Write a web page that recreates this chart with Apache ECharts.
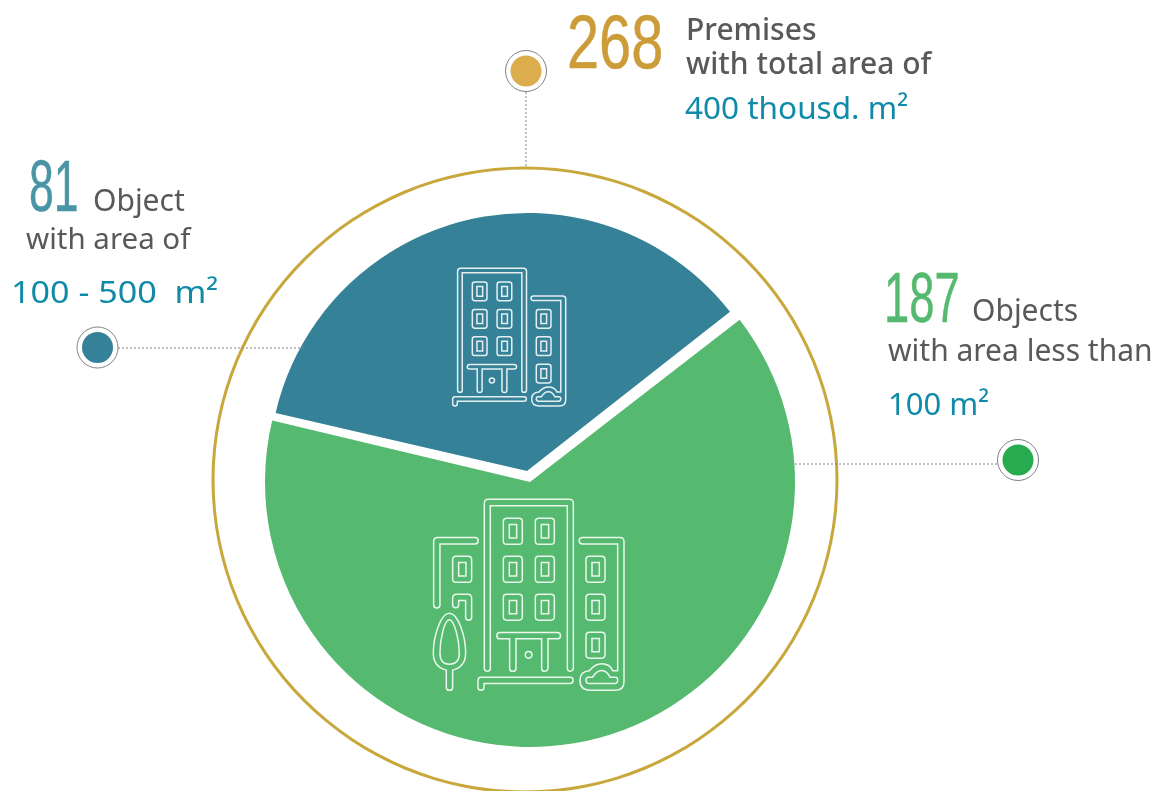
<!DOCTYPE html>
<html><head><meta charset="utf-8">
<style>html,body{margin:0;padding:0;background:#fff}#c{width:1155px;height:791px}</style>
<script src="https://cdn.jsdelivr.net/npm/echarts@6/dist/echarts.min.js"></script>
</head><body><div id="c"></div>
<script>
// Data
const categories = ['Object with area of 100 - 500 m²', 'Objects with area less than 100 m²'];
const objectCounts = [81, 187];
const totalPremises = 268;
const drawnSliceShares = [35.8, 64.2]; // share of the circle each slice occupies as drawn
const sliceStartAngle = 167;
const areaLabels = ['100 - 500  m²', '100 m²', '400 thousd. m²'];

const GREY = '#58595B', TEAL = '#0F8BA8';
const SANS = '"Noto Sans", sans-serif', NUM = '"Liberation Sans", sans-serif';

function win(x, y) {
  return `M${x+10} ${y}L${x+47} ${y}Q${x+57} ${y} ${x+57} ${y+10}L${x+57} ${y+68}Q${x+57} ${y+78} ${x+47} ${y+78}L${x+10} ${y+78}Q${x} ${y+78} ${x} ${y+68}L${x} ${y+10}Q${x} ${y} ${x+10} ${y}Z` +
         `M${x+18} ${y+19}L${x+40} ${y+19}L${x+40} ${y+59}L${x+18} ${y+59}Z`;
}
let iconCore = 'M193 535L193 40Q193 28 205 28L448 28Q460 28 460 40L460 535A9 9 0 0 1 442 535L442 47L211 47L211 535A9 9 0 0 1 193 535Z';
[85,199,313].forEach(y => { iconCore += win(250,y) + win(346,y); });
[199,313,427].forEach(y => { iconCore += win(498,y); });
iconCore += 'M487 143L600 143Q612 143 612 155L612 575Q612 601 587 601L510 601Q480 601 480 572Q480 545 508 543Q525 522 545 522Q570 522 578 543L593 543L593 162L487 162A9.5 9.5 0 0 1 487 143Z';
iconCore += 'M505 562L518 562Q530 542 545 542Q560 542 570 562L585 562Q593 562 593 570Q593 581 585 581L507 581Q498 581 498 571Q498 562 505 562Z';
iconCore += 'M240 428L412 428A9.5 9.5 0 0 1 412 447L384 447L384 535A9.5 9.5 0 0 1 365 535L365 447L288 447L288 535A9.5 9.5 0 0 1 269 535L269 447L240 447A9.5 9.5 0 0 1 240 428Z';
iconCore += 'M336 495A10 10 0 1 1 316 495A10 10 0 1 1 336 495Z';
iconCore += 'M183 562L450 562A9.5 9.5 0 0 1 450 581L192 581L192 592A9 9 0 0 1 174 592L174 572Q174 562 183 562Z';
let iconFull = iconCore + win(98,199);
iconFull += 'M41 345L41 155Q41 143 53 143L165 143A9.5 9.5 0 0 1 165 162L60 162L60 345A9.5 9.5 0 0 1 41 345Z';
iconFull += 'M98 345L98 325Q98 313 110 313L143 313Q155 313 155 325L155 382A9 9 0 0 1 137 382L137 332L116 332L116 345A9 9 0 0 1 98 345Z';
iconFull += 'M88 370C115 370 137 440 137 490Q137 530 98 541L98 592A9.5 9.5 0 0 1 79 592L79 541Q40 530 40 490C40 440 62 370 88 370Z';
iconFull += 'M88 390C103 390 118 450 118 490Q118 523 88 523Q60 523 60 490C60 450 73 390 88 390Z';

function slice(idx, color, center, radius, startAngle) {
  return {
    type: 'pie', silent: true, center, radius, startAngle,
    label: {show:false}, labelLine:{show:false}, animation:false,
    data: categories.map((name,i) => ({
      name, value: drawnSliceShares[i],
      itemStyle: {color: i===idx ? color : 'rgba(0,0,0,0)'}
    }))
  };
}
function icon(d, x, y, width, height) {
  return {
    type:'custom', coordinateSystem:'none', silent:true, animation:false, z:5, data:[0],
    renderItem: () => ({
      type:'path',
      shape:{pathData:d, layout:'cover', x, y, width, height},
      style:{fill:'none', stroke:'rgba(255,255,255,0.88)', lineWidth:1.5}
    })
  };
}
function txt(text, x, y, size, fill, family, weight, scaleX) {
  const style = {text:String(text), x:0, y:0, fill, textVerticalAlign:'middle', textBaseline:'middle',
    font:`${weight||400} ${size}px ${family}`};
  if (scaleX && scaleX < 1) { style.stroke = fill; style.lineWidth = 0.5; }
  return {type:'text', z:10, x, y, scaleX:scaleX||1, style};
}
function dot(x, y, color) {
  return [
    {type:'circle', z:8, shape:{cx:x, cy:y, r:20.5}, style:{fill:'#fff', stroke:'#808285', lineWidth:1}},
    {type:'circle', z:9, shape:{cx:x, cy:y, r:15.5}, style:{fill:color}}
  ];
}
function leader(x1, y1, x2, y2) {
  return {type:'line', z:7, shape:{x1,y1,x2,y2}, style:{stroke:'#808285', lineWidth:1, lineDash:[2,2]}};
}

const chart = echarts.init(document.getElementById('c'), null, {renderer:'canvas'});
chart.setOption({
  backgroundColor:'#fff',
  animation:false,
  series:[
    {type:'pie', silent:true, center:[525,480], radius:[310.5,313.5], label:{show:false}, labelLine:{show:false},
     animation:false, data:[{name:'Total premises', value:totalPremises, itemStyle:{color:'#C8A83C'}}]},
    slice(0,'#358197',[527,471],258,sliceStartAngle),
    slice(1,'#55BA6F',[530,482],265,sliceStartAngle-0.4),
    icon(iconCore, 452.7, 268.3, 113, 137.7),
    icon(iconFull, 433.3, 499.3, 190.7, 191)
  ],
  graphic:{elements:[
    leader(526,92,526,168), leader(118,348,305,348), leader(795,464,998,464),
    ...dot(526,71,'#DCAD4C'), ...dot(97.5,347.5,'#358197'), ...dot(1018,460,'#27AB4E'),
    txt(totalPremises,567,47,76,'#CC9C38',NUM,400,0.76),
    txt('Premises',686,31,30,GREY,SANS,500),
    txt('with total area of',686,65,30,GREY,SANS,500),
    txt(areaLabels[2],685,110,31.5,TEAL,SANS),
    txt(objectCounts[0],29,191,72,'#4A95A5',NUM,400,0.62),
    txt('Object',93,202,30,GREY,SANS),
    txt('with area of',26,241,29.5,GREY,SANS),
    txt(areaLabels[0],11,294,31,TEAL,SANS,400,1.1),
    txt(objectCounts[1],884,302,71,'#55BA6F',NUM,400,0.64),
    txt('Objects',972,312,30,GREY,SANS),
    txt('with area less than',888,352,30,GREY,SANS),
    txt(areaLabels[1],888,406,31,TEAL,SANS)
  ]}
});
</script></body></html>
